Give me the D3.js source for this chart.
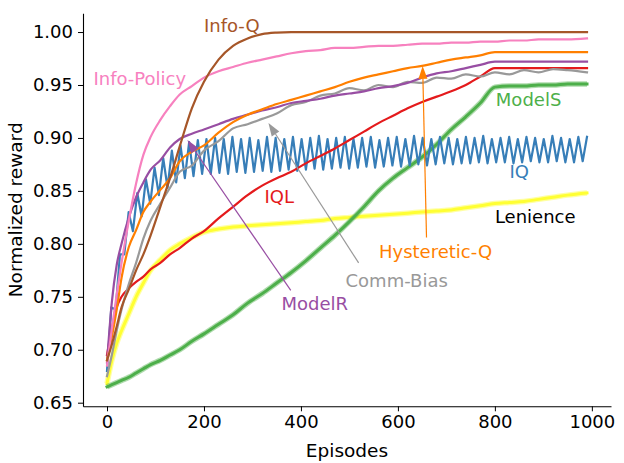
<!DOCTYPE html>
<html>
<head>
<meta charset="utf-8">
<script src="https://cdn.jsdelivr.net/npm/d3@7"></script>
<style>
body { margin: 0; background: #fff; }
text { font-family: "DejaVu Sans", sans-serif; }
</style>
</head>
<body>
<svg id="chart" width="624" height="463"></svg>
<script>
var episodes = [0, 10, 20, 30, 45, 60, 75, 90, 110, 130, 150, 175, 200, 230, 260, 290, 320, 350, 380, 410,
    440, 470, 500, 530, 560, 590, 620, 650, 680, 710, 740, 770, 800, 830, 860, 890, 920, 950, 990]

var lenience = [0.668, 0.690, 0.706, 0.718, 0.734, 0.750, 0.763, 0.775, 0.785, 0.794, 0.800, 0.806, 0.811, 0.814, 0.816, 0.817, 0.818, 0.819, 0.820, 0.821,
    0.822, 0.824, 0.825, 0.826, 0.827, 0.828, 0.829, 0.830, 0.831, 0.832, 0.834, 0.836, 0.838, 0.839, 0.840, 0.842, 0.844, 0.846, 0.848]
var modelS = [0.665, 0.667, 0.669, 0.671, 0.674, 0.678, 0.682, 0.686, 0.690, 0.695, 0.700, 0.708, 0.715, 0.724, 0.733, 0.744, 0.753, 0.763, 0.773, 0.784,
    0.796, 0.808, 0.821, 0.835, 0.850, 0.862, 0.872, 0.882, 0.894, 0.908, 0.920, 0.933, 0.948, 0.949, 0.949, 0.950, 0.950, 0.951, 0.951]
var iql = [0.695, 0.720, 0.740, 0.750, 0.758, 0.764, 0.769, 0.776, 0.782, 0.790, 0.796, 0.805, 0.812, 0.824, 0.835, 0.846, 0.855, 0.862, 0.868, 0.876,
    0.883, 0.890, 0.898, 0.906, 0.914, 0.921, 0.928, 0.934, 0.939, 0.944, 0.950, 0.958, 0.966, 0.966, 0.966, 0.966, 0.966, 0.966, 0.966]
var commBias = [0.675, 0.695, 0.718, 0.738, 0.762, 0.782, 0.805, 0.822, 0.838, 0.853, 0.868, 0.874, 0.888, 0.897, 0.909, 0.913, 0.918, 0.923, 0.931, 0.934,
    0.940, 0.942, 0.947, 0.945, 0.950, 0.948, 0.953, 0.952, 0.957, 0.956, 0.960, 0.958, 0.962, 0.960, 0.964, 0.962, 0.965, 0.964, 0.962]
var modelR = [0.688, 0.745, 0.780, 0.800, 0.825, 0.844, 0.858, 0.870, 0.879, 0.891, 0.899, 0.904, 0.908, 0.913, 0.918, 0.922, 0.926, 0.929, 0.933, 0.935,
    0.937, 0.940, 0.942, 0.944, 0.947, 0.949, 0.952, 0.957, 0.961, 0.963, 0.966, 0.969, 0.972, 0.972, 0.972, 0.972, 0.972, 0.972, 0.972]
var hysteretic = [0.690, 0.712, 0.738, 0.768, 0.797, 0.813, 0.830, 0.840, 0.851, 0.862, 0.878, 0.887, 0.893, 0.905, 0.915, 0.922, 0.927, 0.932, 0.936, 0.940,
    0.944, 0.948, 0.953, 0.957, 0.960, 0.963, 0.966, 0.968, 0.971, 0.974, 0.976, 0.978, 0.981, 0.981, 0.981, 0.981, 0.981, 0.981, 0.981]
var infoPolicy = [0.685, 0.720, 0.752, 0.782, 0.822, 0.857, 0.884, 0.901, 0.917, 0.930, 0.941, 0.949, 0.957, 0.963, 0.967, 0.971, 0.974, 0.977, 0.980, 0.982,
    0.983, 0.985, 0.985, 0.986, 0.987, 0.987, 0.988, 0.989, 0.989, 0.990, 0.990, 0.991, 0.991, 0.992, 0.992, 0.993, 0.993, 0.993, 0.994]
var infoQ = [0.690, 0.705, 0.722, 0.740, 0.757, 0.775, 0.790, 0.808, 0.835, 0.862, 0.892, 0.928, 0.953, 0.974, 0.987, 0.994, 0.998, 0.9995, 1.0, 1.0,
    1.0, 1.0, 1.0, 1.0, 1.0, 1.0, 1.0, 1.0, 1.0, 1.0, 1.0, 1.0, 1.0, 1.0, 1.0, 1.0, 1.0, 1.0, 1.0]

// IQ oscillates every evaluation: troughs and peaks alternate, 112 evaluations over 0..990
var iqLastEpisode = 990
var iqTroughs = [0.680, 0.738, 0.790, 0.812, 0.826, 0.838, 0.846, 0.853, 0.858, 0.862, 0.864, 0.866,
    0.866, 0.867, 0.866, 0.868, 0.867, 0.868, 0.869, 0.868, 0.869, 0.870,
    0.869, 0.870, 0.871, 0.870, 0.871, 0.872, 0.871, 0.872, 0.873, 0.872,
    0.873, 0.874, 0.873, 0.874, 0.875, 0.874, 0.875, 0.876, 0.875, 0.876,
    0.876, 0.877, 0.876, 0.877, 0.877, 0.876, 0.877, 0.878, 0.877, 0.877,
    0.878, 0.877, 0.877, 0.878]
var iqPeaks = [0.740, 0.790, 0.830, 0.848, 0.861, 0.872, 0.881, 0.888, 0.893, 0.896, 0.898,
    0.899, 0.900, 0.899, 0.901, 0.899, 0.900, 0.898, 0.901, 0.900, 0.899,
    0.901, 0.899, 0.900, 0.902, 0.899, 0.900, 0.901, 0.899, 0.900, 0.901,
    0.898, 0.900, 0.901, 0.899, 0.902, 0.900, 0.899, 0.901, 0.900, 0.899,
    0.901, 0.900, 0.902, 0.899, 0.900, 0.901, 0.899, 0.901, 0.900, 0.899,
    0.902, 0.900, 0.899, 0.901, 0.901]

var xTicks = [0, 200, 400, 600, 800, 1000]
var yTicks = [0.65, 0.70, 0.75, 0.80, 0.85, 0.90, 0.95, 1.00]

// label text, colour, anchor (episode, reward), optional arrow from -> to
var labels = [
    {text: 'Info-Q', color: '#a65628', at: [200, 1.0]},
    {text: 'Info-Policy', color: '#f781bf', at: [-28, 0.950]},
    {text: 'IQL', color: '#e41a1c', at: [325, 0.839]},
    {text: 'ModelS', color: '#4daf4a', at: [802, 0.930]},
    {text: 'IQ', color: '#377eb8', at: [830, 0.862]},
    {text: 'Lenience', color: '#000000', at: [800, 0.820]},
    {text: 'Hysteretic-Q', color: '#ff7f00', at: [561, 0.787], from: [659, 0.806], to: [651, 0.968]},
    {text: 'Comm-Bias', color: '#999999', at: [492, 0.759], from: [519, 0.782], to: [333, 0.914]},
    {text: 'ModelR', color: '#984ea3', at: [360, 0.738], from: [379, 0.756], to: [166, 0.898]}
]

var series = [
    {name: 'Lenience', values: lenience, color: '#ffff33', glow: true},
    {name: 'ModelS', values: modelS, color: '#4daf4a', glow: true},
    {name: 'IQ', color: '#377eb8'},
    {name: 'IQL', values: iql, color: '#e41a1c'},
    {name: 'Comm-Bias', values: commBias, color: '#999999'},
    {name: 'ModelR', values: modelR, color: '#984ea3'},
    {name: 'Hysteretic-Q', values: hysteretic, color: '#ff7f00'},
    {name: 'Info-Policy', values: infoPolicy, color: '#f781bf'},
    {name: 'Info-Q', values: infoQ, color: '#a65628'}
]

var svg = d3.select('#chart')

var x = d3.scaleLinear().domain([-49.5, 1039.5]).range([83, 611])
var y = d3.scaleLinear().domain([0.6466, 1.0177]).range([406.3, 13.3])

function points(s) {
    if (s.values) {
        return s.values.map(function(v, i) { return [episodes[i], v] })
    }
    var pts = [], n = iqTroughs.length + iqPeaks.length
    for (var i = 0; i < n; i++) {
        var v = i % 2 ? iqPeaks[(i - 1) / 2] : iqTroughs[i / 2]
        pts.push([i * iqLastEpisode / (n - 1), v])
    }
    return pts
}

var smooth = d3.line()
    .x(function(d) { return x(d[0]) })
    .y(function(d) { return y(d[1]) })
    .curve(d3.curveMonotoneX)
var straight = d3.line()
    .x(function(d) { return x(d[0]) })
    .y(function(d) { return y(d[1]) })

var plot = svg.append('g')

series.forEach(function(s) {
    var pts = points(s),
        line = s.values ? smooth : straight
    if (s.glow) {
        plot.append('path')
            .attr('d', line(pts))
            .attr('fill', 'none')
            .attr('stroke', s.color)
            .attr('stroke-opacity', 0.45)
            .attr('stroke-width', 5.5)
            .attr('stroke-linejoin', 'round')
    }
    plot.append('path')
        .attr('d', line(pts))
        .attr('fill', 'none')
        .attr('stroke', s.color)
        .attr('stroke-width', s.glow ? 3 : 2.2)
        .attr('stroke-linejoin', 'round')
        .attr('stroke-linecap', 'square')
})

// axes
var xAxis = d3.axisBottom(x).tickValues(xTicks).tickSize(5).tickSizeOuter(0).tickPadding(4)
    .tickFormat(d3.format('d'))
var yAxis = d3.axisLeft(y).tickValues(yTicks).tickSize(5).tickSizeOuter(0).tickPadding(5)
    .tickFormat(d3.format('.2f'))

var gx = svg.append('g').attr('transform', 'translate(0,' + y.range()[0] + ')').call(xAxis)
var gy = svg.append('g').attr('transform', 'translate(' + x.range()[0] + ',0)').call(yAxis)

;[gx, gy].forEach(function(g) {
    g.selectAll('text').attr('font-size', 18).attr('fill', '#000')
        .attr('font-family', '"DejaVu Sans", sans-serif')
    g.selectAll('line').attr('stroke', '#000').attr('stroke-width', 1)
    g.select('.domain').attr('stroke', '#000').attr('stroke-width', 1.1)
})

svg.append('text')
    .attr('x', (x.range()[0] + x.range()[1]) / 2)
    .attr('y', 457)
    .attr('text-anchor', 'middle')
    .attr('font-size', 18.5)
    .text('Episodes')

svg.append('text')
    .attr('transform', 'translate(22,' + (y.range()[0] + y.range()[1]) / 2 + ') rotate(-90)')
    .attr('text-anchor', 'middle')
    .attr('font-size', 18.5)
    .text('Normalized reward')

// arrows and labels
labels.forEach(function(l) {
    if (!l.from) return
    var x1 = x(l.from[0]), y1 = y(l.from[1]), x2 = x(l.to[0]), y2 = y(l.to[1])
    var ang = Math.atan2(y2 - y1, x2 - x1), len = 13, hw = 4.5
    var bx = x2 - len * Math.cos(ang), by = y2 - len * Math.sin(ang)
    svg.append('line')
        .attr('x1', x1).attr('y1', y1).attr('x2', bx).attr('y2', by)
        .attr('stroke', l.color).attr('stroke-width', 1.2)
    svg.append('path')
        .attr('d', 'M' + x2 + ',' + y2 +
            'L' + (bx + hw * Math.sin(ang)) + ',' + (by - hw * Math.cos(ang)) +
            'L' + (bx - hw * Math.sin(ang)) + ',' + (by + hw * Math.cos(ang)) + 'Z')
        .attr('fill', l.color)
})

svg.selectAll('.label')
    .data(labels)
    .enter().append('text')
    .attr('class', 'label')
    .attr('x', function(d) { return x(d.at[0]) })
    .attr('y', function(d) { return y(d.at[1]) })
    .attr('font-size', 18)
    .attr('fill', function(d) { return d.color })
    .text(function(d) { return d.text })
</script>
</body>
</html>
